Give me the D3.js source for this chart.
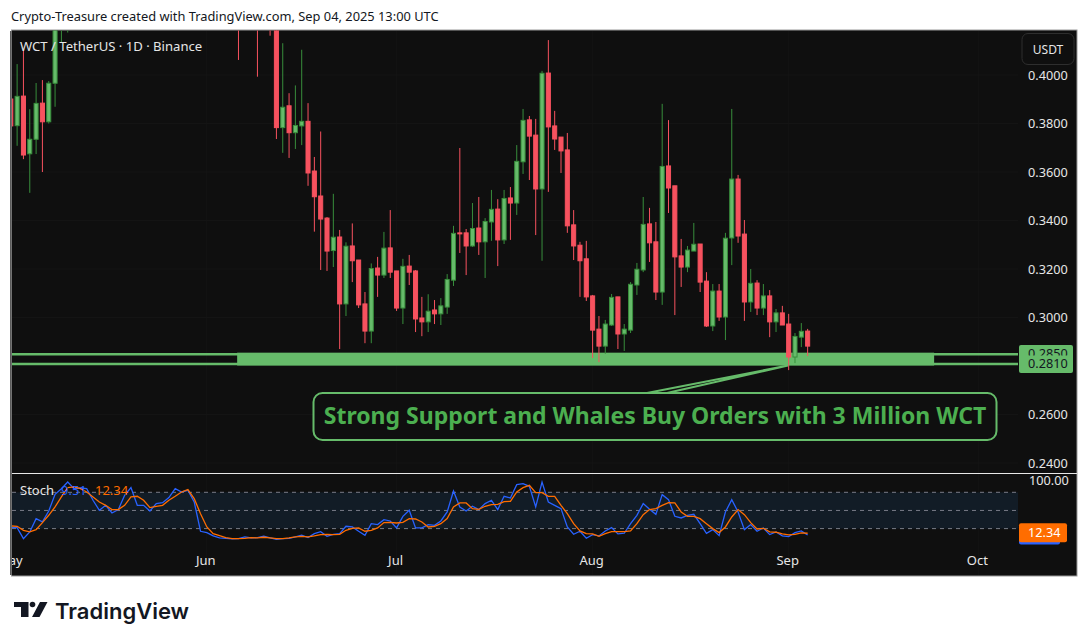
<!DOCTYPE html>
<html>
<head>
<meta charset="utf-8">
<script src="https://cdn.jsdelivr.net/npm/d3@7"></script>
<style>
  body { margin: 0; background: #fff; }
  text { font-family: "Noto Sans", sans-serif; }
</style>
</head>
<body>
<div class="canvas"></div>
<script>
// days counted from May 1 2025, the candles between May 10 and Jun 5 are above the visible range
const candleDays = [0, 1, 2, 3, 4, 5, 6, 7, 8, 9, 36, 39, 41].concat(d3.range(42, 127));

const opens = [.3901,.3791,.3913,.3675,.3735,.3884,.3807,.3966,.4250,.4300,.4400,.4350,.4320,.4260,
  .3783,.3873,.3762,.3790,.3809,.3604,.3501,.3410,.3276,.3332,.3056,.3295,.3237,.3056,.2944,.3204,.3175,.3287,
  .3192,.3039,.3212,.3192,.2998,.2982,.3031,.3015,.3043,.3154,.3349,.3349,.3295,.3369,.3312,.3394,.3447,.3320,
  .3493,.3472,.3642,.3815,.3752,.3530,.4008,.3790,.3744,.3691,.3382,.3298,.3242,.3089,.2952,.2882,.2969,.3085,
  .2932,.2948,.3134,.3196,.3386,.3312,.3105,.3625,.3543,.3254,.3208,.3274,.3303,.3150,.2965,.3109,.3002,.3328,
  .3571,.3344,.3064,.3142,.3039,.3089,.2982,.3019,.2973,.2837,.2919,.2944];
const highs = [.3925,.4045,.4103,.3859,.3967,.3979,.3975,.4300,.4350,.4400,.4450,.4400,.4360,.4300,
  .4131,.3925,.3957,.4104,.3884,.3662,.3767,.3414,.3510,.3361,.3310,.3388,.3237,.3105,.3223,.3250,.3353,.3443,
  .3192,.3242,.3258,.3196,.3085,.3096,.3072,.3080,.3179,.3378,.3699,.3365,.3472,.3497,.3410,.3526,.3488,.3526,
  .3538,.3711,.3860,.3831,.3819,.4017,.4144,.3852,.3744,.3761,.3443,.3312,.3316,.3093,.3006,.2990,.3097,.3085,
  .2973,.3146,.3225,.3497,.3452,.3394,.3881,.3814,.3543,.3324,.3295,.3390,.3303,.3187,.3138,.3138,.3349,.3860,
  .3588,.3402,.3200,.3154,.3138,.3113,.3035,.3048,.3015,.2936,.2977,.2953];
const lows = [.3770,.3708,.3653,.3514,.3674,.3600,.3800,.3869,.4135,.4175,.4062,.3993,.4162,.3736,
  .3679,.3658,.3695,.3711,.3543,.3354,.3196,.3192,.3208,.2870,.3006,.3146,.3039,.2894,.2894,.3085,.3163,.3163,
  .3027,.2973,.3134,.2940,.2923,.2940,.2973,.2969,.3015,.3130,.3266,.3175,.3291,.3258,.3163,.3316,.3212,.3303,
  .3320,.3423,.3592,.3567,.3340,.3234,.3518,.3691,.3596,.3349,.3237,.3085,.3068,.2833,.2816,.2850,.2965,.2870,
  .2862,.2936,.3093,.3187,.3229,.3072,.3052,.3431,.3010,.3126,.3187,.3274,.3105,.2961,.2944,.2986,.2907,.3216,
  .3308,.2986,.3023,.3010,.3010,.2919,.2940,.2969,.2783,.2812,.2878,.2841];
const closes = [.3790,.3912,.3670,.3735,.3883,.3807,.3966,.4250,.4300,.4380,.4250,.4250,.4260,.3783,
  .3867,.3762,.3792,.3809,.3596,.3498,.3406,.3274,.3331,.3056,.3294,.3234,.3052,.2944,.3202,.3175,.3286,.3187,
  .3039,.3211,.3187,.2994,.2982,.3026,.3015,.3048,.3157,.3347,.3345,.3295,.3367,.3312,.3396,.3446,.3320,.3491,
  .3472,.3644,.3813,.3748,.3530,.4007,.3786,.3736,.3687,.3378,.3295,.3234,.3085,.2948,.2882,.2973,.3083,.2932,
  .2952,.3137,.3199,.3384,.3308,.3105,.3623,.3534,.3250,.3208,.3278,.3302,.3146,.2965,.3109,.3002,.3327,.3571,
  .3336,.3064,.3141,.3039,.3089,.2982,.3019,.2969,.2837,.2922,.2943,.2882];

// Stoch %K and %D, one value per day from May 1 to Sep 4
const stochK = [21.6,21.6,3.5,14.5,36.5,31.0,49.1,76.7,86.0,97.0,86.0,87.1,86.0,66.8,50.3,58.5,45.8,51.4,75.0,87.7,
  58.5,58.5,49.1,61.3,62.9,71.2,86.0,80.5,83.3,64.0,15.6,13.4,7.9,4.6,4.0,2.9,3.5,6.2,4.6,5.1,
  7.3,4.6,2.4,3.5,4.0,6.2,9.0,5.1,11.7,15.0,7.3,10.6,11.7,23.8,22.7,15.6,9.0,28.2,26.6,34.8,
  32.6,21.1,40.3,50.3,21.1,21.1,26.6,25.5,32.6,47.5,82.2,55.8,49.1,56.9,51.4,61.3,66.8,51.4,73.4,70.6,
  92.6,94.3,89.9,55.8,97.0,64.0,58.5,53.0,22.7,10.6,15.6,4.0,10.1,7.9,16.1,21.6,11.2,12.3,28.2,42.0,
  61.3,51.9,43.6,76.1,67.9,40.3,37.6,42.0,43.6,28.2,12.3,18.3,8.4,47.5,67.9,47.5,18.3,26.6,15.6,21.1,
  10.1,14.5,7.9,6.8,13.4,16.1,9.51];
const stochD = [24.4,23.8,17.2,14.5,18.3,29.9,42.0,55.8,72.3,87.7,88.8,86.0,80.5,72.3,64.0,58.5,51.4,51.4,58.5,72.3,
  73.4,66.8,54.7,56.9,58.5,66.8,73.4,80.5,84.4,69.5,44.7,22.7,11.7,8.4,5.1,3.5,3.5,4.0,5.1,4.6,
  5.7,4.6,3.5,3.5,4.6,6.2,7.3,6.2,7.9,10.1,10.6,10.1,10.6,17.2,20.5,21.1,15.6,17.2,21.1,29.9,
  30.4,29.3,30.4,36.5,35.9,31.0,22.7,23.8,28.2,36.5,55.8,62.4,62.4,53.0,51.9,56.9,59.6,60.2,64.6,65.1,
  80.5,87.7,91.5,79.4,79.4,73.4,73.4,58.5,44.7,28.2,16.1,11.7,11.2,7.3,11.7,15.0,15.0,15.0,16.1,28.2,
  43.1,51.4,53.0,58.5,62.9,62.4,47.5,40.3,40.3,36.5,28.2,20.0,13.4,22.7,39.2,51.4,43.1,29.9,19.4,20.5,
  14.5,14.0,11.2,9.5,10.6,12.8,12.34];

const priceTicks = [0.40, 0.38, 0.36, 0.34, 0.32, 0.30, 0.26, 0.24];
const stochLevels = [80, 50, 20];
const supportLevels = [0.285, 0.281];
const monthTicks = [[4, 'May'], [5, 'Jun'], [6, 'Jul'], [7, 'Aug'], [8, 'Sep'], [9, 'Oct']];

const colors = { bg: '#0f0f0f', up: '#66bb6a', upDark: '#388e3c', down: '#f7525f', zone: '#66bb6a',
  text: '#e6e6e6', grid: '#141414', k: '#2962ff', d: '#ff6d00' };

const pane = { left: 12, right: 1018, axisRight: 1077, top: 30, split: 473.5, bottom: 576 };

const svg = d3.select('.canvas')
    .append('svg')
    .attr('width', 1089)
    .attr('height', 644)
    .style('display', 'block');

const dayToDate = n => new Date(Date.UTC(2025, 4, 1 + n));

const x = d3.scaleUtc()
    .domain([dayToDate(0), dayToDate(153)])
    .range([10.8, 978.4]);

const y = d3.scaleLinear()
    .domain([0.40, 0.24])
    .range([75, 463]);

const yStoch = d3.scaleLinear()
    .domain([100, 0])
    .range([480.2, 540.7]);

const xDay = n => x(dayToDate(n));
const bodyW = (xDay(1) - xDay(0)) * 0.8;

svg.append('text')
    .attr('x', 11)
    .attr('y', 21)
    .attr('font-size', 12.85)
    .attr('fill', '#131722')
    .text('Crypto-Treasure created with TradingView.com, Sep 04, 2025 13:00 UTC');

// Pane background
svg.append('rect')
    .attr('x', pane.left - 0.5)
    .attr('y', pane.top)
    .attr('width', pane.axisRight - pane.left + 0.5)
    .attr('height', pane.bottom - pane.top)
    .attr('fill', colors.bg)
    .attr('stroke', '#9a9a9a')
    .attr('stroke-width', 1);

const defs = svg.append('defs');
defs.append('clipPath').attr('id', 'clipMain').append('rect')
    .attr('x', pane.left).attr('y', pane.top + 0.5)
    .attr('width', pane.right - pane.left).attr('height', pane.split - pane.top - 1);
defs.append('clipPath').attr('id', 'clipStoch').append('rect')
    .attr('x', pane.left).attr('y', pane.split + 0.5)
    .attr('width', pane.right - pane.left).attr('height', 72);
defs.append('clipPath').attr('id', 'clipAxis').append('rect')
    .attr('x', pane.left).attr('y', 545)
    .attr('width', pane.right - pane.left).attr('height', 30);

// Faint grid
svg.selectAll('.vgrid')
    .data(monthTicks)
    .enter().append('line')
    .attr('x1', d => x(new Date(Date.UTC(2025, d[0], 1))))
    .attr('x2', d => x(new Date(Date.UTC(2025, d[0], 1))))
    .attr('y1', pane.top + 1).attr('y2', pane.bottom - 1)
    .attr('stroke', colors.grid);

const main = svg.append('g').attr('clip-path', 'url(#clipMain)');

main.selectAll('.hgrid')
    .data(priceTicks)
    .enter().append('line')
    .attr('x1', pane.left).attr('x2', pane.right)
    .attr('y1', d => y(d)).attr('y2', d => y(d))
    .attr('stroke', colors.grid);

// Support zone and its two lines
main.selectAll('.support')
    .data(supportLevels)
    .enter().append('line')
    .attr('x1', pane.left).attr('x2', pane.right)
    .attr('y1', d => y(d) + 0.4).attr('y2', d => y(d) + 0.4)
    .attr('stroke', colors.zone)
    .attr('stroke-width', 2.6);

main.append('rect')
    .attr('x', x(new Date(Date.UTC(2025, 5, 5, 19))))
    .attr('y', y(0.2855))
    .attr('width', xDay(146) - x(new Date(Date.UTC(2025, 5, 5, 19))))
    .attr('height', y(0.2802) - y(0.2855))
    .attr('fill', colors.zone);

// Callout tail and box
main.append('path')
    .attr('d', 'M647,393 L788,365.5 L667,393')
    .attr('fill', colors.bg)
    .attr('stroke', colors.zone)
    .attr('stroke-width', 2);

// Candles
const candles = main.selectAll('.candle')
    .data(candleDays.map((day, i) => ({ day, o: opens[i], h: highs[i], l: lows[i], c: closes[i] })))
    .enter().append('g')
    .attr('class', 'candle');

candles.append('line')
    .attr('x1', d => xDay(d.day)).attr('x2', d => xDay(d.day))
    .attr('y1', d => y(d.h)).attr('y2', d => y(d.l))
    .attr('stroke', d => d.c >= d.o ? colors.upDark : colors.down)
    .attr('stroke-width', 1);

candles.append('rect')
    .attr('x', d => xDay(d.day) - bodyW / 2 + 0.5)
    .attr('y', d => y(Math.max(d.o, d.c)))
    .attr('width', bodyW - 1)
    .attr('height', d => Math.max(1, Math.abs(y(d.o) - y(d.c))))
    .attr('fill', d => d.c >= d.o ? colors.up : colors.down)
    .attr('stroke', d => d.c >= d.o ? colors.upDark : colors.down)
    .attr('stroke-width', 1);

svg.append('rect')
    .attr('x', 313.5).attr('y', 393)
    .attr('width', 683).attr('height', 47)
    .attr('rx', 9)
    .attr('fill', colors.bg)
    .attr('stroke', colors.zone)
    .attr('stroke-width', 2);

svg.append('text')
    .attr('x', 655)
    .attr('y', 424)
    .attr('text-anchor', 'middle')
    .attr('font-size', 23)
    .attr('font-weight', 700)
    .attr('fill', '#4caf50')
    .text('Strong Support and Whales Buy Orders with 3 Million WCT');

// Separator between the panes
svg.append('line')
    .attr('x1', pane.left).attr('x2', pane.axisRight)
    .attr('y1', pane.split).attr('y2', pane.split)
    .attr('stroke', '#e8e8e8');

// Stoch pane
const stoch = svg.append('g').attr('clip-path', 'url(#clipStoch)');

stoch.append('rect')
    .attr('x', pane.left).attr('width', pane.right - pane.left)
    .attr('y', yStoch(80)).attr('height', yStoch(20) - yStoch(80))
    .attr('fill', '#121c26');

stoch.selectAll('.level')
    .data(stochLevels)
    .enter().append('line')
    .attr('x1', pane.left).attr('x2', pane.right)
    .attr('y1', d => yStoch(d)).attr('y2', d => yStoch(d))
    .attr('stroke', '#787b86')
    .attr('stroke-dasharray', '4 4');

const stochLine = d3.line()
    .x((d, i) => xDay(i))
    .y(d => yStoch(d));

stoch.append('path')
    .attr('d', stochLine(stochK))
    .attr('fill', 'none')
    .attr('stroke', colors.k)
    .attr('stroke-width', 1.3);

stoch.append('path')
    .attr('d', stochLine(stochD))
    .attr('fill', 'none')
    .attr('stroke', colors.d)
    .attr('stroke-width', 1.3);

// Legends
svg.append('text')
    .attr('x', 20).attr('y', 51)
    .attr('font-size', 13.1)
    .attr('fill', colors.text)
    .text('WCT / TetherUS · 1D · Binance');

svg.append('text').attr('x', 20).attr('y', 495)
    .attr('font-size', 13).attr('fill', colors.text).text('Stoch');
svg.append('text').attr('x', 61).attr('y', 495)
    .attr('font-size', 13).attr('fill', colors.k).text(stochK[stochK.length - 1].toFixed(2));
svg.append('text').attr('x', 95).attr('y', 495)
    .attr('font-size', 13).attr('fill', colors.d).text(stochD[stochD.length - 1].toFixed(2));

// Price axis
const priceAxis = d3.axisRight(y)
    .tickValues(priceTicks)
    .tickFormat(d3.format('.4f'))
    .tickSize(0)
    .tickPadding(0);

const priceG = svg.append('g')
    .attr('transform', 'translate(1028, 0)')
    .call(priceAxis);
priceG.select('.domain').remove();
priceG.selectAll('text')
    .attr('font-size', 12.7)
    .attr('fill', colors.text)
    .style('font-family', '"Noto Sans", sans-serif');

svg.append('text')
    .attr('x', 1029).attr('y', yStoch(100) + 5)
    .attr('font-size', 12.7).attr('fill', colors.text).text('100.00');

// Support price labels
svg.append('rect')
    .attr('x', 1019).attr('y', 345)
    .attr('width', 54).attr('height', 28)
    .attr('rx', 2)
    .attr('fill', colors.zone);

const labelClip = defs.append('clipPath').attr('id', 'clipLabel');
labelClip.append('rect').attr('x', 1019).attr('y', 348).attr('width', 54).attr('height', 7.5);

svg.append('text')
    .attr('x', 1028).attr('y', y(0.285) + 4.5)
    .attr('clip-path', 'url(#clipLabel)')
    .attr('font-size', 12.7).attr('fill', '#131722').text(supportLevels[0].toFixed(4));
svg.append('text')
    .attr('x', 1028).attr('y', y(0.281) + 4.5)
    .attr('font-size', 12.7).attr('fill', '#131722').text(supportLevels[1].toFixed(4));

// Stoch value labels
svg.append('rect')
    .attr('x', 1019).attr('y', yStoch(stochK[stochK.length - 1]) - 9.5)
    .attr('width', 41).attr('height', 19)
    .attr('rx', 2).attr('fill', colors.k);
svg.append('rect')
    .attr('x', 1019).attr('y', yStoch(stochD[stochD.length - 1]) - 10)
    .attr('width', 48).attr('height', 19)
    .attr('rx', 2).attr('fill', colors.d);
svg.append('text')
    .attr('x', 1028).attr('y', yStoch(stochD[stochD.length - 1]) + 4)
    .attr('font-size', 12.7).attr('fill', '#fff').text(stochD[stochD.length - 1].toFixed(2));

// Time axis
const timeAxis = d3.axisBottom(x)
    .tickValues(monthTicks.map(d => new Date(Date.UTC(2025, d[0], 1))))
    .tickFormat((d, i) => monthTicks[i][1])
    .tickSize(0)
    .tickPadding(0);

const timeG = svg.append('g')
    .attr('clip-path', 'url(#clipAxis)')
    .append('g')
    .attr('transform', 'translate(-1.5, 556)')
    .call(timeAxis);
timeG.select('.domain').remove();
timeG.selectAll('text')
    .attr('font-size', 13)
    .attr('fill', colors.text)
    .style('font-family', '"Noto Sans", sans-serif');

// Currency button
svg.append('rect')
    .attr('x', 1022).attr('y', 33.5)
    .attr('width', 52).attr('height', 31)
    .attr('rx', 6)
    .attr('fill', colors.bg)
    .attr('stroke', '#2e2e2e');
svg.append('text')
    .attr('x', 1048).attr('y', 54)
    .attr('text-anchor', 'middle')
    .attr('font-size', 12)
    .attr('fill', colors.text)
    .text('USDT');

// TradingView logo
const logo = svg.append('g').attr('fill', '#131722');
logo.append('path').attr('d', 'M14,602 H28.5 V617 H21 V607 H14 Z');
logo.append('circle').attr('cx', 32.5).attr('cy', 604.5).attr('r', 2.8);
logo.append('path').attr('d', 'M40,602 H47.5 L39.5,617 H32 Z');
logo.append('text')
    .attr('x', 55).attr('y', 619)
    .attr('font-size', 22)
    .attr('font-weight', 600)
    .style('font-family', 'Inter, sans-serif')
    .text('TradingView');
</script>
</body>
</html>
